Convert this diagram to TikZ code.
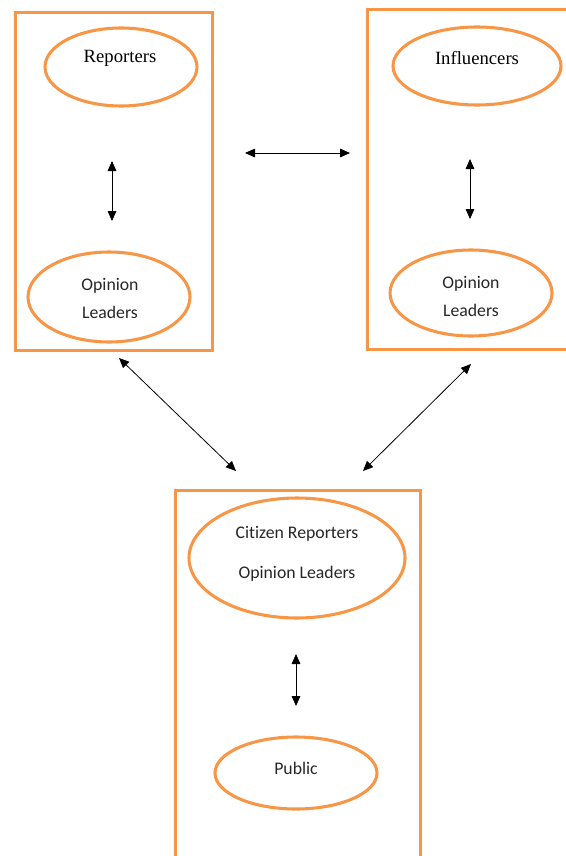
\documentclass[tikz,border=0pt]{standalone}
\usepackage{fontspec}
\setmainfont{Liberation Serif}
\newfontfamily\calib[RawFeature={-liga}]{Carlito}
\usetikzlibrary{shapes.geometric,arrows.meta}
\definecolor{orng}{HTML}{F79646}
\definecolor{txtgray}{HTML}{262626}
\begin{document}
\begin{tikzpicture}[x=0.75pt,y=-0.75pt,
  frame/.style={draw=orng,line width=2.4pt},
  oval/.style={draw=orng,line width=2.3pt,ellipse,inner sep=0pt},
  serlab/.style={font=\fontsize{14}{16}\selectfont},
  sanslab/.style={font=\calib\fontsize{13.3}{15}\selectfont,text=txtgray},
  link/.style={{Triangle[length=7.5pt,width=6.5pt]}-{Triangle[length=7.5pt,width=6.5pt]},line width=0.6pt,black}]
\useasboundingbox (0,0) rectangle (566,856);
\clip (0,0) rectangle (566,856);
% boxes
\draw[frame] (15.5,12.5) rectangle (212.5,350.5);
\draw[frame] (367.5,9.5) rectangle (580,349.5);
\draw[frame] (175.5,490.5) rectangle (420.5,880);
% ellipses
\node[oval,minimum width=114pt,minimum height=58.5pt] (rep) at (121,67) {};
\node[oval,minimum width=121.5pt,minimum height=67.5pt] (olL) at (109,297) {};
\node[oval,minimum width=126pt,minimum height=58.5pt] (inf) at (477,66) {};
\node[oval,minimum width=121.5pt,minimum height=64.5pt] (olR) at (471,293) {};
\node[oval,minimum width=162pt,minimum height=90pt] (cit) at (297,558) {};
\node[oval,minimum width=121.5pt,minimum height=54pt] (pub) at (296,773) {};
% texts
\node[serlab] (trep) at (120,58) {Reporters};
\node[serlab] (tinf) at (477,58) {Influencers};
\node[sanslab] (tolL1) at (110,286) {Opinion};
\node[sanslab] (tolL2) at (110,312) {Leaders};
\node[sanslab] (tolR1) at (471,284) {Opinion};
\node[sanslab] (tolR2) at (471,310) {Leaders};
\node[sanslab] (tcit1) at (297,534) {Citizen Reporters};
\node[sanslab] (tcit2) at (297,574) {Opinion Leaders};
\node[sanslab] (tpub) at (296,768) {Public};
% arrow endpoints
\coordinate (a1) at (112,161);
\coordinate (a2) at (112,221);
\coordinate (b1) at (470,159);
\coordinate (b2) at (470,219);
\coordinate (h1) at (245,153);
\coordinate (h2) at (350,153);
\coordinate (c1) at (296,654);
\coordinate (c2) at (296,706);
\coordinate (d1) at (119,358);
\coordinate (d2) at (236,471);
\coordinate (e1) at (471,364);
\coordinate (e2) at (363,471);
\draw[link] (a1) -- (a2);
\draw[link] (b1) -- (b2);
\draw[link] (h1) -- (h2);
\draw[link] (c1) -- (c2);
\draw[link] (d1) -- (d2);
\draw[link] (e1) -- (e2);
\end{tikzpicture}
\end{document}
